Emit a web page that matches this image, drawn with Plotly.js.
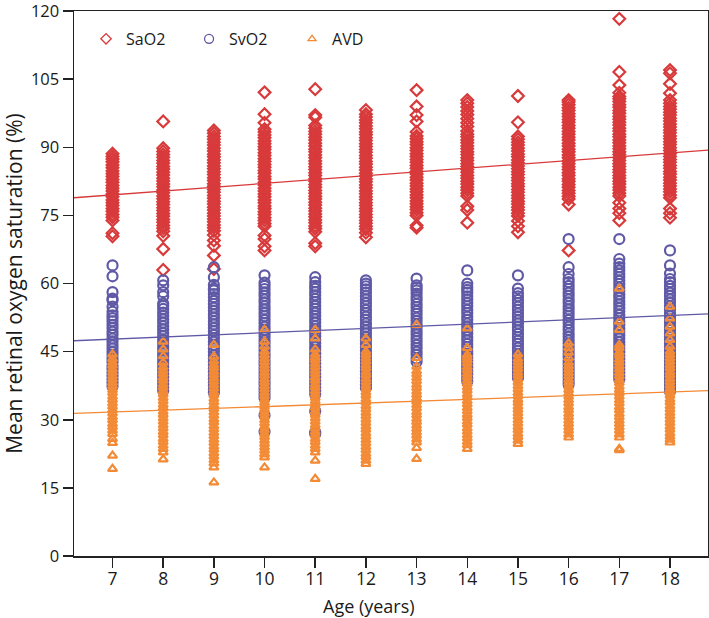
<!DOCTYPE html>
<html>
<head>
<meta charset="utf-8">
<script src="https://cdn.plot.ly/plotly-3.0.1.min.js"></script>
<style>html,body{margin:0;padding:0;background:#fff;}#chart{width:709px;height:618px;}</style>
</head>
<body>
<div id="chart"></div>
<script>
// ---- data ----
const ages = [7, 8, 9, 10, 11, 12, 13, 14, 15, 16, 17, 18];
const seriesNames = ["SaO2", "SvO2", "AVD"];
const yTicks = [0, 15, 30, 45, 60, 75, 90, 105, 120];

const sao2 = [
  [70.4, 71.1, 73.9, 74.6, 75.2, 75.9, 76.5, 77.2, 77.8, 78.4, 79.1, 79.7, 80.4, 81.0, 81.6, 82.3, 82.9, 83.6, 84.2, 84.8, 85.5, 86.1, 86.8, 87.4, 88.0, 88.6],
  [63.0, 67.6, 70.5, 71.5, 72.2, 72.8, 73.5, 74.1, 74.8, 75.4, 76.1, 76.7, 77.4, 78.0, 78.7, 79.3, 80.0, 80.6, 81.3, 81.9, 82.6, 83.2, 83.9, 84.5, 85.2, 85.8, 86.5, 87.1, 87.8, 88.4, 89.1, 89.8, 95.7],
  [63.2, 66.2, 68.3, 69.5, 70.7, 71.6, 72.3, 72.9, 73.6, 74.2, 74.9, 75.5, 76.2, 76.8, 77.5, 78.1, 78.8, 79.4, 80.1, 80.7, 81.4, 82.0, 82.7, 83.3, 84.0, 84.6, 85.3, 85.9, 86.6, 87.2, 87.9, 88.5, 89.2, 89.8, 90.5, 91.1, 91.8, 92.4, 93.1, 93.7],
  [67.3, 68.2, 69.8, 70.6, 72.6, 73.2, 73.9, 74.5, 75.2, 75.8, 76.5, 77.1, 77.8, 78.4, 79.1, 79.7, 80.4, 81.0, 81.7, 82.3, 83.0, 83.6, 84.3, 84.9, 85.6, 86.2, 86.9, 87.5, 88.2, 88.8, 89.5, 90.1, 90.8, 91.4, 92.1, 92.7, 93.4, 94.0, 95.4, 97.3, 102.1],
  [68.2, 68.9, 71.4, 72.1, 72.7, 73.4, 74.0, 74.7, 75.3, 76.0, 76.6, 77.3, 77.9, 78.6, 79.2, 79.9, 80.5, 81.2, 81.8, 82.5, 83.1, 83.8, 84.4, 85.1, 85.7, 86.4, 87.0, 87.7, 88.3, 89.0, 89.6, 90.3, 90.9, 91.6, 92.2, 92.9, 93.5, 94.2, 94.8, 96.6, 97.1, 102.8],
  [70.2, 71.2, 72.0, 72.6, 73.3, 73.9, 74.6, 75.2, 75.9, 76.5, 77.2, 77.8, 78.5, 79.1, 79.8, 80.4, 81.1, 81.7, 82.4, 83.0, 83.7, 84.3, 85.0, 85.6, 86.3, 86.9, 87.6, 88.2, 88.9, 89.5, 90.2, 90.8, 91.5, 92.1, 92.8, 93.4, 94.1, 94.7, 95.4, 96.0, 96.7, 97.3, 98.2],
  [72.3, 72.8, 75.0, 75.6, 76.3, 76.9, 77.6, 78.2, 78.9, 79.5, 80.2, 80.8, 81.5, 82.1, 82.8, 83.4, 84.1, 84.7, 85.4, 86.0, 86.7, 87.3, 88.0, 88.6, 89.3, 89.9, 90.6, 91.2, 91.9, 92.5, 93.4, 95.7, 97.1, 99.0, 102.6],
  [73.4, 76.2, 77.0, 79.3, 79.9, 80.6, 81.2, 81.9, 82.5, 83.2, 83.8, 84.5, 85.1, 85.8, 86.4, 87.1, 87.7, 88.4, 89.0, 89.7, 90.3, 91.0, 91.6, 92.3, 92.9, 93.6, 94.6, 95.4, 96.3, 97.2, 98.0, 98.9, 99.7, 100.4],
  [71.3, 72.6, 73.8, 74.9, 75.5, 76.2, 76.8, 77.5, 78.1, 78.8, 79.4, 80.1, 80.7, 81.4, 82.0, 82.7, 83.3, 84.0, 84.6, 85.3, 85.9, 86.6, 87.2, 87.9, 88.5, 89.2, 89.8, 90.5, 91.1, 91.8, 92.4, 95.5, 101.3],
  [67.3, 77.4, 78.6, 79.2, 79.9, 80.5, 81.2, 81.8, 82.5, 83.1, 83.8, 84.4, 85.1, 85.7, 86.4, 87.0, 87.7, 88.3, 89.0, 89.6, 90.3, 90.9, 91.6, 92.2, 92.9, 93.5, 94.2, 94.8, 95.5, 96.1, 96.8, 97.4, 98.1, 98.7, 99.4, 100.0, 100.4],
  [73.9, 75.5, 76.5, 77.8, 79.3, 79.9, 80.6, 81.2, 81.9, 82.5, 83.2, 83.8, 84.5, 85.1, 85.8, 86.4, 87.1, 87.7, 88.4, 89.0, 89.7, 90.3, 91.0, 91.6, 92.3, 92.9, 93.6, 94.2, 94.9, 95.5, 96.2, 96.8, 97.5, 98.1, 98.8, 99.4, 100.1, 100.7, 101.2, 102.0, 103.7, 106.6, 118.3],
  [74.5, 75.5, 76.5, 78.9, 79.5, 80.2, 80.8, 81.5, 82.1, 82.8, 83.4, 84.1, 84.7, 85.4, 86.0, 86.7, 87.3, 88.0, 88.6, 89.3, 89.9, 90.6, 91.2, 91.9, 92.5, 93.2, 93.8, 94.5, 95.1, 95.8, 96.4, 97.1, 97.7, 98.4, 99.0, 99.7, 100.4, 101.9, 104.0, 106.3, 107.0]
];

const svo2 = [
  [37.4, 38.2, 38.9, 39.7, 40.4, 41.2, 41.9, 42.7, 43.4, 44.2, 44.9, 45.7, 46.4, 47.2, 47.9, 48.7, 49.4, 50.2, 50.9, 51.7, 52.4, 53.0, 53.8, 54.9, 56.3, 56.7, 58.1, 61.6, 64.0],
  [36.4, 37.1, 37.9, 38.6, 39.4, 40.1, 40.9, 41.6, 42.4, 43.1, 43.9, 44.6, 45.4, 46.1, 46.9, 47.6, 48.4, 49.1, 49.9, 50.6, 51.4, 52.1, 52.9, 53.6, 54.4, 55.1, 55.6, 57.2, 58.1, 59.6, 60.7],
  [36.0, 36.7, 37.5, 38.2, 39.0, 39.7, 40.5, 41.2, 42.0, 42.7, 43.5, 44.2, 45.0, 45.7, 46.5, 47.2, 48.0, 48.7, 49.5, 50.2, 51.0, 51.7, 52.5, 53.2, 54.0, 54.7, 55.5, 56.2, 57.0, 57.7, 58.5, 58.9, 59.7, 61.4, 63.6],
  [27.4, 31.0, 34.8, 35.5, 36.3, 37.0, 37.8, 38.5, 39.3, 40.0, 40.8, 41.5, 42.3, 43.0, 43.8, 44.5, 45.3, 46.0, 46.8, 47.5, 48.3, 49.0, 49.8, 50.5, 51.3, 52.0, 52.8, 53.5, 54.3, 55.0, 55.8, 56.5, 57.3, 58.0, 58.8, 59.5, 60.2, 61.8],
  [26.9, 27.3, 31.9, 35.6, 36.4, 37.1, 37.9, 38.6, 39.4, 40.1, 40.9, 41.6, 42.4, 43.1, 43.9, 44.6, 45.4, 46.1, 46.9, 47.6, 48.4, 49.1, 49.9, 50.6, 51.4, 52.1, 52.9, 53.6, 54.4, 55.1, 55.9, 56.6, 57.4, 58.1, 58.9, 59.5, 60.3, 61.4],
  [37.0, 37.7, 38.5, 39.2, 40.0, 40.7, 41.5, 42.2, 43.0, 43.7, 44.5, 45.2, 46.0, 46.7, 47.5, 48.2, 49.0, 49.7, 50.5, 51.2, 52.0, 52.7, 53.5, 54.2, 55.0, 55.7, 56.5, 57.2, 58.0, 58.7, 59.4, 60.0, 60.7],
  [42.8, 43.5, 44.3, 45.0, 45.8, 46.5, 47.3, 48.0, 48.8, 49.5, 50.3, 51.0, 51.8, 52.5, 53.3, 54.0, 54.8, 55.5, 56.3, 57.0, 57.8, 58.5, 59.1, 59.6, 61.1],
  [38.5, 39.2, 40.0, 40.7, 41.5, 42.2, 43.0, 43.7, 44.5, 45.2, 46.0, 46.7, 47.5, 48.2, 49.0, 49.7, 50.5, 51.2, 52.0, 52.7, 53.5, 54.2, 55.0, 55.7, 56.5, 57.2, 58.0, 58.6, 59.2, 60.0, 62.9],
  [39.2, 39.9, 40.7, 41.4, 42.2, 42.9, 43.7, 44.4, 45.2, 45.9, 46.7, 47.4, 48.2, 48.9, 49.7, 50.4, 51.2, 51.9, 52.7, 53.4, 54.2, 54.9, 55.7, 56.4, 57.2, 57.9, 58.9, 61.8],
  [37.8, 38.5, 39.3, 40.0, 40.8, 41.5, 42.3, 43.0, 43.8, 44.5, 45.3, 46.0, 46.8, 47.5, 48.3, 49.0, 49.8, 50.5, 51.3, 52.0, 52.8, 53.5, 54.3, 55.0, 55.8, 56.5, 57.3, 58.0, 58.8, 59.5, 60.3, 61.0, 62.1, 63.6, 69.8],
  [38.9, 39.6, 40.4, 41.1, 41.9, 42.6, 43.4, 44.1, 44.9, 45.6, 46.4, 47.1, 47.9, 48.6, 49.4, 50.1, 50.9, 51.6, 52.4, 53.1, 53.9, 54.6, 55.4, 56.1, 56.9, 57.6, 58.4, 59.1, 59.9, 60.6, 61.4, 62.1, 62.9, 63.6, 64.4, 65.4, 69.8],
  [36.3, 37.0, 37.8, 38.5, 39.3, 40.0, 40.8, 41.5, 42.3, 43.0, 43.8, 44.5, 45.3, 46.0, 46.8, 47.5, 48.3, 49.0, 49.8, 50.5, 51.3, 52.0, 52.8, 53.5, 54.3, 55.0, 55.8, 56.5, 57.3, 58.0, 58.8, 59.5, 60.3, 61.0, 62.2, 64.0, 67.3]
];

const avd = [
  [19.2, 22.1, 24.9, 25.8, 26.9, 27.6, 28.4, 29.1, 29.9, 30.6, 31.4, 32.1, 32.9, 33.6, 34.4, 35.1, 35.9, 36.6, 37.4, 38.1, 38.9, 39.6, 40.4, 41.1, 41.9, 42.6, 43.4, 44.4],
  [21.3, 22.8, 23.6, 24.3, 25.1, 25.8, 26.6, 27.3, 28.1, 28.8, 29.6, 30.3, 31.1, 31.8, 32.6, 33.3, 34.1, 34.8, 35.6, 36.3, 37.1, 37.8, 38.6, 39.3, 40.1, 40.8, 41.6, 42.6, 44.0, 45.5, 47.2],
  [16.2, 19.5, 20.4, 21.1, 21.9, 22.6, 23.4, 24.1, 24.9, 25.6, 26.4, 27.1, 27.9, 28.6, 29.4, 30.1, 30.9, 31.6, 32.4, 33.1, 33.9, 34.6, 35.4, 36.1, 36.9, 37.6, 38.4, 39.1, 39.9, 40.6, 41.4, 42.1, 42.9, 43.9, 46.5],
  [19.5, 21.7, 22.4, 23.2, 23.9, 24.7, 25.4, 26.2, 26.9, 27.7, 28.4, 29.2, 29.9, 30.7, 31.4, 32.2, 32.9, 33.7, 34.4, 35.2, 35.9, 36.7, 37.4, 38.2, 38.9, 39.7, 40.4, 41.2, 41.9, 42.7, 43.4, 44.2, 45.0, 46.1, 47.2, 49.8],
  [17.0, 21.0, 22.8, 23.6, 24.3, 25.1, 25.8, 26.6, 27.3, 28.1, 28.8, 29.6, 30.3, 31.1, 31.8, 32.6, 33.3, 34.1, 34.8, 35.6, 36.3, 37.1, 37.8, 38.6, 39.3, 40.1, 40.8, 41.6, 42.3, 43.1, 43.7, 44.4, 45.5, 47.9, 49.8],
  [20.3, 21.0, 21.8, 22.5, 23.3, 24.0, 24.8, 25.5, 26.3, 27.0, 27.8, 28.5, 29.3, 30.0, 30.8, 31.5, 32.3, 33.0, 33.8, 34.5, 35.3, 36.0, 36.8, 37.5, 38.3, 39.0, 39.8, 40.5, 41.3, 42.0, 42.8, 43.5, 44.3, 45.0, 46.5, 47.9],
  [21.4, 23.8, 25.0, 25.7, 26.5, 27.2, 28.0, 28.7, 29.5, 30.2, 31.0, 31.7, 32.5, 33.2, 34.0, 34.7, 35.5, 36.2, 37.0, 37.7, 38.5, 39.2, 40.0, 40.7, 41.7, 43.6, 50.9],
  [23.6, 24.4, 25.1, 25.9, 26.6, 27.4, 28.1, 28.9, 29.6, 30.4, 31.1, 31.9, 32.6, 33.4, 34.1, 34.9, 35.6, 36.4, 37.1, 37.9, 38.6, 39.4, 40.1, 40.9, 41.6, 42.4, 43.1, 43.7, 44.3, 45.8, 50.1],
  [24.7, 25.4, 26.2, 26.9, 27.7, 28.4, 29.2, 29.9, 30.7, 31.4, 32.2, 32.9, 33.7, 34.4, 35.2, 35.9, 36.7, 37.4, 38.2, 38.9, 39.7, 40.4, 41.2, 41.9, 42.7, 43.4, 44.4],
  [26.1, 26.8, 27.6, 28.3, 29.1, 29.8, 30.6, 31.3, 32.1, 32.8, 33.6, 34.3, 35.1, 35.8, 36.6, 37.3, 38.1, 38.8, 39.6, 40.3, 41.1, 41.8, 42.6, 43.6, 44.8, 45.8, 46.8],
  [23.3, 23.6, 26.1, 26.8, 27.6, 28.3, 29.1, 29.8, 30.6, 31.3, 32.1, 32.8, 33.6, 34.3, 35.1, 35.8, 36.6, 37.3, 38.1, 38.8, 39.6, 40.3, 41.1, 41.8, 42.6, 43.3, 44.1, 44.8, 45.8, 46.5, 49.8, 51.6, 58.9],
  [25.0, 25.6, 26.3, 27.0, 27.8, 28.5, 29.3, 30.0, 30.8, 31.5, 32.3, 33.0, 33.8, 34.5, 35.3, 36.0, 36.8, 37.5, 38.3, 39.0, 39.8, 40.5, 41.3, 42.0, 42.8, 43.5, 44.3, 45.0, 46.1, 47.6, 49.0, 50.5, 52.3, 54.9]
];

// fitted regression lines (intercept at age 0, slope per year)
const fitIntercepts = [73.66, 44.46, 28.90];
const fitSlopes = [0.839, 0.472, 0.400];

// ---- styling ----
const colors = ["#d83a3b", "#5f59a6", "#f38a35"];
const symbols = ["diamond-open", "circle-open", "triangle-up-open"];
const sizes = [9, 10, 8];
const legendSizes = [8, 9, 7];
const xRange = [6.24, 18.75];
const yRange = [0, 120.02];
const fontMain = "Open Sans, DejaVu Sans, sans-serif";

function flatten(groups) {
  const xs = [], ys = [];
  groups.forEach((vals, i) => vals.forEach(v => { xs.push(ages[i]); ys.push(v); }));
  return {xs, ys};
}

const allSeries = [sao2, svo2, avd];
const traces = [];
// legend entries (thin outlines, as in the reference key)
seriesNames.forEach((nm, k) => {
  traces.push({
    type: "scatter", mode: "markers", name: nm, x: [null], y: [null],
    marker: {symbol: symbols[k], size: legendSizes[k], color: colors[k], line: {width: 1.3, color: colors[k]}},
    legendgroup: nm
  });
});
// data points
allSeries.forEach((groups, k) => {
  const f = flatten(groups);
  traces.push({
    type: "scatter", mode: "markers", name: seriesNames[k], showlegend: false, legendgroup: seriesNames[k],
    x: f.xs, y: f.ys,
    marker: {symbol: symbols[k], size: sizes[k], color: colors[k], line: {width: 2.2, color: colors[k]}},
    hoverinfo: "x+y"
  });
});
// regression lines
allSeries.forEach((groups, k) => {
  traces.push({
    type: "scatter", mode: "lines", showlegend: false,
    x: xRange,
    y: xRange.map(a => fitIntercepts[k] + fitSlopes[k] * a),
    line: {color: colors[k], width: 1.3},
    hoverinfo: "skip"
  });
});

const layout = {
  width: 709, height: 618,
  margin: {l: 74, r: 1, t: 11, b: 62},
  paper_bgcolor: "#fff", plot_bgcolor: "#fff",
  font: {family: fontMain, color: "#1a1a1a"},
  showlegend: true,
  legend: {
    orientation: "h", x: 0.019, y: 0.98, xanchor: "left", yanchor: "top",
    bgcolor: "rgba(0,0,0,0)", font: {size: 16, family: fontMain, color: "#1a1a1a"},
    entrywidth: 58, entrywidthmode: "pixels", itemclick: false
  },
  xaxis: {
    range: xRange, tickvals: ages, ticktext: ages.map(String),
    showline: true, linecolor: "#222", linewidth: 1.5, mirror: true,
    ticks: "outside", ticklen: 10, tickwidth: 1.5, tickcolor: "#222",
    showgrid: false, zeroline: false, ticklabelstandoff: -4,
    tickfont: {family: fontMain, size: 17.5, color: "#1a1a1a"}
  },
  yaxis: {
    range: yRange, tickvals: yTicks, ticktext: yTicks.map(String),
    showline: true, linecolor: "#222", linewidth: 1.5, mirror: true,
    ticks: "outside", ticklen: 10, tickwidth: 1.5, tickcolor: "#222",
    showgrid: false, zeroline: false, ticklabeloverflow: "allow",
    tickfont: {family: fontMain, size: 16.5, color: "#1a1a1a"},
    title: {text: "Mean retinal oxygen saturation (%)", font: {family: fontMain, size: 21, color: "#1a1a1a"}, standoff: 8}
  },
  annotations: [{
    text: "Age (years)", xref: "paper", yref: "paper", x: 0.465, y: -0.092,
    xanchor: "center", yanchor: "middle", showarrow: false,
    font: {family: fontMain, size: 18, color: "#1a1a1a"}
  }]
};

Plotly.newPlot("chart", traces, layout, {staticPlot: true, displayModeBar: false});
</script>
</body>
</html>
